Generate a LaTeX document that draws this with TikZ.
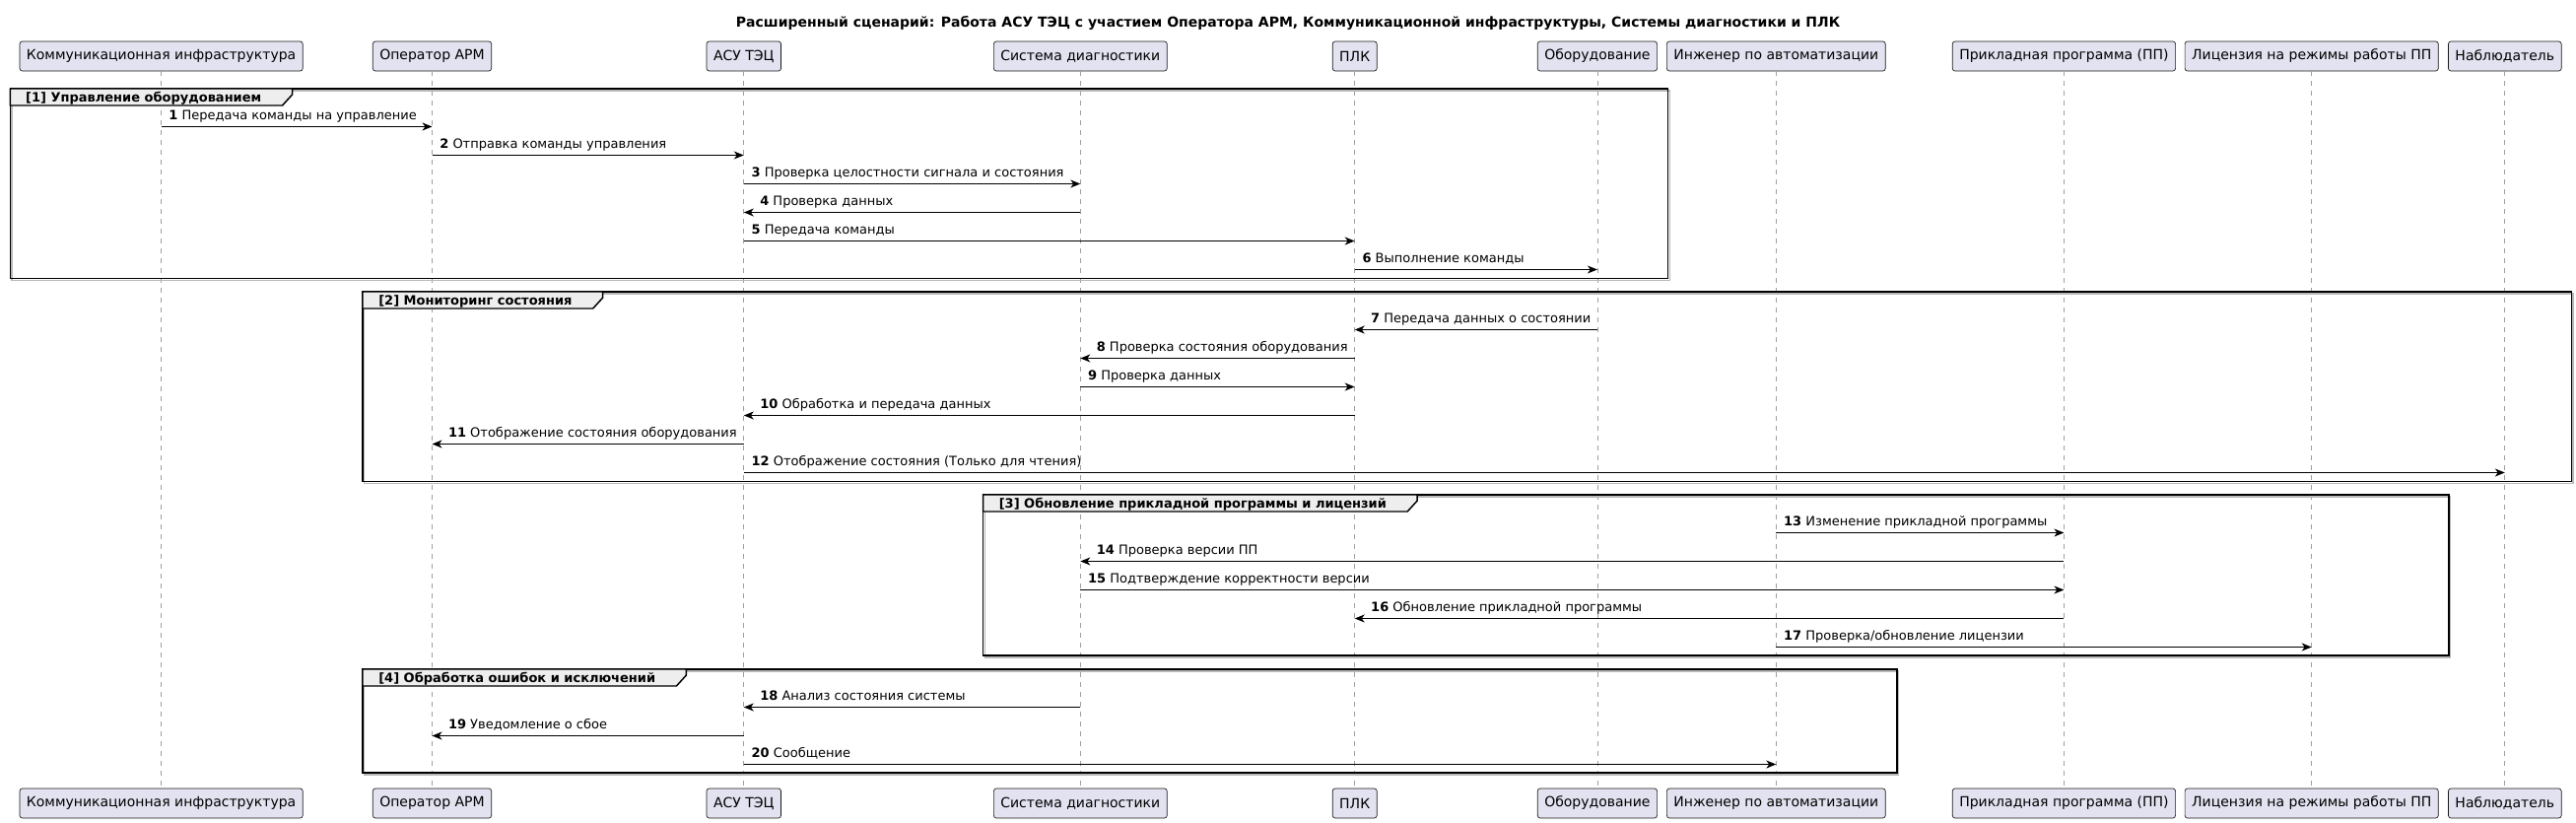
\documentclass[tikz,border=0pt]{standalone}
\usepackage{fontspec}
\setmainfont{DejaVu Sans}
\usepackage{tikz}
\usetikzlibrary{arrows.meta,positioning}
\definecolor{partfill}{HTML}{E2E2F0}
\definecolor{partline}{HTML}{181818}
\definecolor{tabfill}{HTML}{EEEEEE}
\tikzstyle{arrow} = [line width=0.75pt,->,>={Stealth[length=7.5pt,width=6pt,inset=2.2pt]}]
\tikzstyle{part} = [draw=partline, fill=partfill, line width=0.5pt, rounded corners=2pt,
  minimum height=22.5pt, inner xsep=5.25pt, font=\fontsize{10.5pt}{12pt}\selectfont]
\tikzstyle{lifeline} = [gray!75, line width=0.5pt, dash pattern=on 3.75pt off 3.75pt]
\tikzstyle{grp} = [line width=1.1pt]
\tikzstyle{grpshadow} = [gray!55, line width=0.9pt]
\tikzstyle{tab} = [fill=tabfill, draw, line width=1.1pt]
\tikzstyle{grplab} = [anchor=base west, inner sep=0pt, font=\fontsize{9.75pt}{11pt}\selectfont\bfseries]
\tikzstyle{lr} = [anchor=base west, inner sep=0pt, xshift=5.5pt, yshift=5pt, font=\fontsize{9.75pt}{11pt}\selectfont]
\tikzstyle{rl} = [anchor=base west, inner sep=0pt, xshift=12pt, yshift=5pt, font=\fontsize{9.75pt}{11pt}\selectfont]

\begin{document}
\begin{tikzpicture}[x=0.75pt, y=-0.75pt]
    \useasboundingbox (0,0) rectangle (2614,835);
    \node[anchor=base, font=\fontsize{10.5pt}{12pt}\selectfont\bfseries] (title) at (1307,27)
        {Расширенный сценарий: Работа АСУ ТЭЦ с участием Оператора АРМ, Коммуникационной инфраструктуры, Системы диагностики и ПЛК};

    % participants, top and bottom
    \node[part] (ci) at (163.6,57) {Коммуникационная инфраструктура};
    \node[part] (op) at (438.5,57) {Оператор АРМ};
    \node[part] (asu) at (754.8,57) {АСУ ТЭЦ};
    \node[part] (diag) at (1096.3,57) {Система диагностики};
    \node[part] (plc) at (1374.7,57) {ПЛК};
    \node[part] (equip) at (1620.9,57) {Оборудование};
    \node[part] (eng) at (1802.3,57) {Инженер по автоматизации};
    \node[part] (app) at (2094.4,57) {Прикладная программа (ПП)};
    \node[part] (lic) at (2345.7,57) {Лицензия на режимы работы ПП};
    \node[part] (obs) at (2541.8,57) {Наблюдатель};
    \node[part] (ci2) at (163.6,815) {Коммуникационная инфраструктура};
    \node[part] (op2) at (438.5,815) {Оператор АРМ};
    \node[part] (asu2) at (754.8,815) {АСУ ТЭЦ};
    \node[part] (diag2) at (1096.3,815) {Система диагностики};
    \node[part] (plc2) at (1374.7,815) {ПЛК};
    \node[part] (equip2) at (1620.9,815) {Оборудование};
    \node[part] (eng2) at (1802.3,815) {Инженер по автоматизации};
    \node[part] (app2) at (2094.4,815) {Прикладная программа (ПП)};
    \node[part] (lic2) at (2345.7,815) {Лицензия на режимы работы ПП};
    \node[part] (obs2) at (2541.8,815) {Наблюдатель};

    \draw[lifeline] (ci) -- (ci2);
    \draw[lifeline] (op) -- (op2);
    \draw[lifeline] (asu) -- (asu2);
    \draw[lifeline] (diag) -- (diag2);
    \draw[lifeline] (plc) -- (plc2);
    \draw[lifeline] (equip) -- (equip2);
    \draw[lifeline] (eng) -- (eng2);
    \draw[lifeline] (app) -- (app2);
    \draw[lifeline] (lic) -- (lic2);
    \draw[lifeline] (obs) -- (obs2);

    % group frames
    \draw[grpshadow] (12,92) rectangle (1694.5,284.5);
    \draw[grp] (10.3,90) rectangle (1692.7,282.5);
    \node[grplab] (g1) at (25.8,103.5) {[1] Управление оборудованием};
    \draw[tab] (10.3,90) -- (g1.east |- 0,90) -- ++(31,0) -- ++(0,6) -- ++(-10,11) -- (10.3,107) -- cycle;
    \node[grplab] at (g1.base west) {[1] Управление оборудованием};

    \draw[grpshadow] (369.8,298) rectangle (2611,490.5);
    \draw[grp] (368,296) rectangle (2609.3,488.5);
    \node[grplab] (g2) at (384,309.5) {[2] Мониторинг состояния};
    \draw[tab] (368,296) -- (g2.east |- 0,296) -- ++(31,0) -- ++(0,6) -- ++(-10,11) -- (368,313) -- cycle;
    \node[grplab] at (g2.base west) {[2] Мониторинг состояния};

    \draw[grpshadow] (999.5,504) rectangle (2486.8,667);
    \draw[grp] (997.7,502) rectangle (2485,665);
    \node[grplab] (g3) at (1013.5,515.5) {[3] Обновление прикладной программы и лицензий};
    \draw[tab] (997.7,502) -- (g3.east |- 0,502) -- ++(31,0) -- ++(0,6) -- ++(-10,11) -- (997.7,519) -- cycle;
    \node[grplab] at (g3.base west) {[3] Обновление прикладной программы и лицензий};

    \draw[grpshadow] (369.8,681) rectangle (1926.8,786);
    \draw[grp] (368,679) rectangle (1925,784);
    \node[grplab] (g4) at (384,692.5) {[4] Обработка ошибок и исключений};
    \draw[tab] (368,679) -- (g4.east |- 0,679) -- ++(31,0) -- ++(0,6) -- ++(-10,11) -- (368,696) -- cycle;
    \node[grplab] at (g4.base west) {[4] Обработка ошибок и исключений};

    % messages
    \draw[arrow] (ci |- 0,128.5) -- (op |- 0,128.5) node[lr, at start] (m1) {\textbf{1} Передача команды на управление};
    \draw[arrow] (op |- 0,157.5) -- (asu |- 0,157.5) node[lr, at start] (m2) {\textbf{2} Отправка команды управления};
    \draw[arrow] (asu |- 0,186.5) -- (diag |- 0,186.5) node[lr, at start] (m3) {\textbf{3} Проверка целостности сигнала и состояния};
    \draw[arrow] (diag |- 0,215.5) -- (asu |- 0,215.5) node[rl] (m4) {\textbf{4} Проверка данных};
    \draw[arrow] (asu |- 0,244.5) -- (plc |- 0,244.5) node[lr, at start] (m5) {\textbf{5} Передача команды};
    \draw[arrow] (plc |- 0,273.5) -- (equip |- 0,273.5) node[lr, at start] (m6) {\textbf{6} Выполнение команды};

    \draw[arrow] (equip |- 0,334.5) -- (plc |- 0,334.5) node[rl] (m7) {\textbf{7} Передача данных о состоянии};
    \draw[arrow] (plc |- 0,363.5) -- (diag |- 0,363.5) node[rl] (m8) {\textbf{8} Проверка состояния оборудования};
    \draw[arrow] (diag |- 0,392.5) -- (plc |- 0,392.5) node[lr, at start] (m9) {\textbf{9} Проверка данных};
    \draw[arrow] (plc |- 0,421.5) -- (asu |- 0,421.5) node[rl] (m10) {\textbf{10} Обработка и передача данных};
    \draw[arrow] (asu |- 0,450.5) -- (op |- 0,450.5) node[rl] (m11) {\textbf{11} Отображение состояния оборудования};
    \draw[arrow] (asu |- 0,479.5) -- (obs |- 0,479.5) node[lr, at start] (m12) {\textbf{12} Отображение состояния (Только для чтения)};

    \draw[arrow] (eng |- 0,540.5) -- (app |- 0,540.5) node[lr, at start] (m13) {\textbf{13} Изменение прикладной программы};
    \draw[arrow] (app |- 0,569.5) -- (diag |- 0,569.5) node[rl] (m14) {\textbf{14} Проверка версии ПП};
    \draw[arrow] (diag |- 0,598.5) -- (app |- 0,598.5) node[lr, at start] (m15) {\textbf{15} Подтверждение корректности версии};
    \draw[arrow] (app |- 0,627.5) -- (plc |- 0,627.5) node[rl] (m16) {\textbf{16} Обновление прикладной программы};
    \draw[arrow] (eng |- 0,656.5) -- (lic |- 0,656.5) node[lr, at start] (m17) {\textbf{17} Проверка/обновление лицензии};

    \draw[arrow] (diag |- 0,717.5) -- (asu |- 0,717.5) node[rl] (m18) {\textbf{18} Анализ состояния системы};
    \draw[arrow] (asu |- 0,746.5) -- (op |- 0,746.5) node[rl] (m19) {\textbf{19} Уведомление о сбое};
    \draw[arrow] (asu |- 0,775.5) -- (eng |- 0,775.5) node[lr, at start] (m20) {\textbf{20} Сообщение};
\end{tikzpicture}
\end{document}
